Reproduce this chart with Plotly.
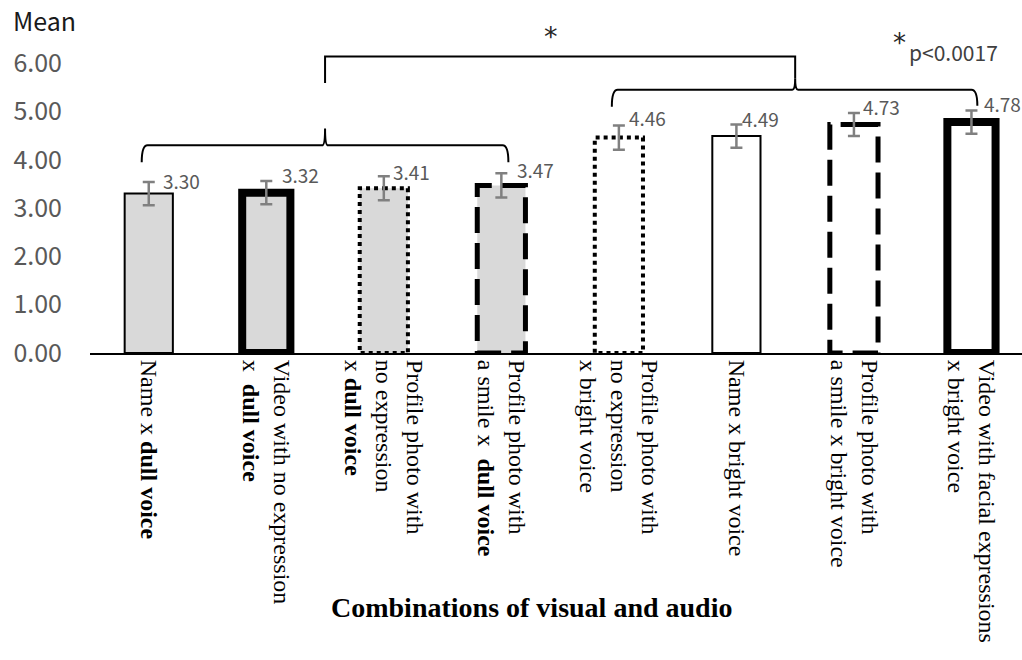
import plotly.graph_objects as go

# ---------------- data ----------------
categories = [
    "Name x <b>dull voice</b>",
    "Video with no expression<br>x  <b>dull voice</b>",
    "Profile photo with<br>no expression<br>x <b>dull voice</b>",
    "Profile photo with<br>a smile x  <b>dull voice</b>",
    "Profile photo with<br>no expression<br>x bright voice",
    "Name x bright voice",
    "Profile photo with<br>a smile x bright voice",
    "Video with facial expressions<br>x bright voice",
]
means = [3.30, 3.32, 3.41, 3.47, 4.46, 4.49, 4.73, 4.78]
errors = [0.24, 0.24, 0.25, 0.25, 0.25, 0.24, 0.24, 0.24]
y_ticks = [0, 1, 2, 3, 4, 5, 6]
y_tick_text = ["0.00", "1.00", "2.00", "3.00", "4.00", "5.00", "6.00"]

# ---------------- styles ----------------
fills = ["#d9d9d9"] * 4 + ["#ffffff"] * 4
line_widths = [2, 8, 4, 5, 4, 2, 5, 8]
line_dashes = ["solid", "solid", "4px,4px", "26px,10px",
               "4px,4px", "solid", "26px,10px", "solid"]
label_dx = [12, 14, 7, 14, 8, 4, 7, 11]
label_dy = [2, 7, 5, 4, 8, 6, 6, 7]
bar_w = 0.41

idx = list(range(len(means)))
fig = go.Figure()

fig.add_trace(go.Bar(
    x=idx, y=means, width=bar_w,
    marker=dict(color=fills, line=dict(width=0)),
    showlegend=False, hoverinfo="skip",
))

# outlines (dotted/dashed/thick borders)
for i, v in enumerate(means):
    l, r, c = i - bar_w / 2, i + bar_w / 2, i
    fig.add_trace(go.Scatter(
        x=[c, r, r, l, l, c], y=[v, v, 0, 0, v, v],
        mode="lines",
        line=dict(color="#000000", width=line_widths[i], dash=line_dashes[i]),
        showlegend=False, hoverinfo="skip",
    ))

# error bars
fig.add_trace(go.Scatter(
    x=idx, y=means, mode="markers",
    marker=dict(color="rgba(0,0,0,0)", size=1),
    error_y=dict(type="data", array=errors, visible=True,
                 color="#808080", thickness=2.5, width=6),
    showlegend=False, hoverinfo="skip",
))

# value labels
for i, (v, e) in enumerate(zip(means, errors)):
    fig.add_annotation(
        x=i, y=v + e, text=f"{v:.2f}", showarrow=False,
        xanchor="left", yanchor="middle",
        xshift=label_dx[i], yshift=label_dy[i],
        font=dict(family="Noto Sans CJK JP", size=19, color="#595959"),
    )

# significance brackets (curly-ish)
def brace(x0, x1, xt, yh, yend0, yend1, ytip, dx=0.05):
    return (f"M {x0},{yend0} Q {x0},{yh} {x0+dx},{yh} "
            f"L {xt-dx/2},{yh} Q {xt},{yh} {xt},{ytip} "
            f"Q {xt},{yh} {xt+dx/2},{yh} "
            f"L {x1-dx},{yh} Q {x1},{yh} {x1},{yend1}")

dull_group = [0, 1, 2, 3]
bright_group = [4, 5, 6, 7]
b1_tip = sum(dull_group) / len(dull_group)
b2_tip = sum(bright_group) / len(bright_group)

fig.add_shape(type="path", xref="x", yref="y",
              path=brace(-0.06, 3.06, b1_tip, 4.30, 3.95, 3.95, 4.65),
              line=dict(color="#000000", width=2))
fig.add_shape(type="path", xref="x", yref="y",
              path=brace(3.94, 7.05, b2_tip, 5.45, 5.10, 5.12, 5.69),
              line=dict(color="#000000", width=2))
fig.add_shape(type="path", xref="x", yref="y",
              path=f"M {b1_tip},5.59 L {b1_tip},6.14 L {b2_tip},6.14 L {b2_tip},5.69",
              line=dict(color="#000000", width=2))

fig.add_annotation(xref="paper", yref="paper", x=(551 - 90) / 932, y=(353 - 36) / 353,
                   text="*", showarrow=False, xanchor="center", yanchor="middle",
                   font=dict(family="DejaVu Sans", size=27, color="#262626"))
fig.add_annotation(xref="paper", yref="paper", x=(899 - 90) / 932, y=(353 - 43) / 353,
                   text="*", showarrow=False, xanchor="center", yanchor="middle",
                   font=dict(family="DejaVu Sans", size=26, color="#262626"))
fig.add_annotation(xref="paper", yref="paper", x=(907 - 90) / 932, y=(353 - 52) / 353,
                   text="p<0.0017", showarrow=False, xanchor="left", yanchor="middle",
                   font=dict(family="Noto Sans CJK JP", size=21, color="#404040"))

fig.add_annotation(xref="paper", yref="paper", x=(11 - 90) / 932, y=(353 - 20) / 353,
                   text="Mean", showarrow=False, xanchor="left", yanchor="middle",
                   font=dict(family="Noto Sans CJK JP", size=25, color="#1a1a1a"))

fig.add_annotation(xref="paper", yref="paper", x=(531 - 90) / 932, y=(353 - 607) / 353,
                   text="<b>Combinations of visual and audio</b>", showarrow=False,
                   xanchor="center", yanchor="middle",
                   font=dict(family="Liberation Serif", size=28, color="#000000"))

fig.update_layout(
    width=1022, height=660,
    margin=dict(l=90, r=0, t=0, b=307),
    plot_bgcolor="#ffffff", paper_bgcolor="#ffffff",
    bargap=0.5, showlegend=False,
    xaxis=dict(
        range=[-0.5, 7.43], tickmode="array", tickvals=idx, ticktext=categories,
        tickangle=90, showgrid=False, zeroline=False,
        showline=True, linecolor="#000000", linewidth=2,
        ticks="", tickfont=dict(family="Liberation Serif", size=24, color="#000000"),
    ),
    yaxis=dict(
        range=[0, 7.308], tickmode="array", tickvals=y_ticks, ticktext=y_tick_text,
        showgrid=False, zeroline=False, showline=False, ticks="",
        ticklabelstandoff=27,
        tickfont=dict(family="Noto Sans CJK JP", size=25, color="#595959"),
    ),
)

fig.write_html("out.html", config={"displayModeBar": False})

# remove the browser's default page margin so the figure fills the window
with open("out.html", "r", encoding="utf-8") as f:
    html = f.read()
html = html.replace("<head>", "<head><style>html,body{margin:0;padding:0;overflow:hidden;}</style>", 1)
with open("out.html", "w", encoding="utf-8") as f:
    f.write(html)
